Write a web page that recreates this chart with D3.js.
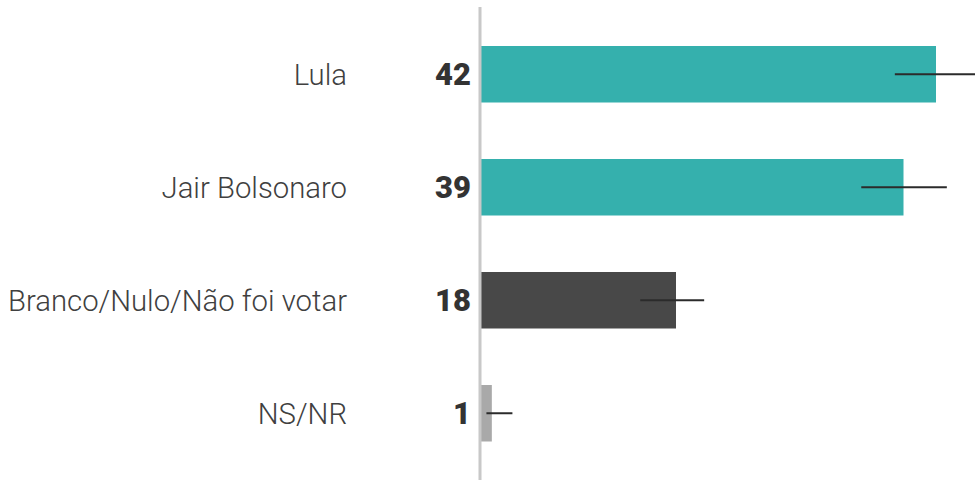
<!DOCTYPE html>
<html>
<head>
<meta charset="utf-8">
<script src="https://cdn.jsdelivr.net/npm/d3@7"></script>
<style>
  html, body { margin: 0; padding: 0; background: #fff; }
  svg { display: block; }
</style>
</head>
<body>
<svg id="chart" width="975" height="480"></svg>
<script>
// Voting intention (%) with margin-of-error ranges
const categories = ["Lula", "Jair Bolsonaro", "Branco/Nulo/Não foi votar", "NS/NR"];
const values = [42, 39, 18, 1];
const errLow = [38.2, 35.1, 14.7, 0.5];
const errHigh = [45.8, 43.0, 20.6, 2.9];
const colors = ["#35b0ad", "#35b0ad", "#484848", "#a9a9a9"];

const data = categories.map((c, i) => ({
  cat: c, value: values[i], lo: errLow[i], hi: errHigh[i], color: colors[i]
}));

const svg = d3.select("#chart");
const W = 975, H = 480;

const x = d3.scaleLinear().domain([0, 42]).range([481, 936]);
const y = d3.scaleBand()
  .domain(categories)
  .range([17.75, 469.75])
  .paddingInner(0.5)
  .paddingOuter(0.25);

// Bars
svg.append("g").selectAll("rect")
  .data(data)
  .join("rect")
  .attr("x", x(0))
  .attr("y", d => y(d.cat))
  .attr("width", d => x(d.value) - x(0))
  .attr("height", y.bandwidth())
  .attr("fill", d => d.color);

// Baseline
svg.append("line")
  .attr("x1", 480).attr("x2", 480)
  .attr("y1", 7).attr("y2", H)
  .attr("stroke", "#c8c8c8")
  .attr("stroke-width", 3);

// Error ranges
svg.append("g").selectAll("line")
  .data(data)
  .join("line")
  .attr("x1", d => x(d.lo))
  .attr("x2", d => x(d.hi))
  .attr("y1", d => y(d.cat) + y.bandwidth() / 2)
  .attr("y2", d => y(d.cat) + y.bandwidth() / 2)
  .attr("stroke", "#2b2b2b")
  .attr("stroke-width", 2);

// Category labels
svg.append("g").selectAll("text")
  .data(data)
  .join("text")
  .attr("x", 347)
  .attr("y", d => y(d.cat) + y.bandwidth() / 2)
  .attr("dy", "0.35em")
  .attr("text-anchor", "end")
  .attr("font-family", "Roboto, sans-serif")
  .attr("font-weight", 300)
  .attr("font-size", 29.3)
  .attr("fill", "#404040")
  .text(d => d.cat);

// Value labels
svg.append("g").selectAll("text")
  .data(data)
  .join("text")
  .attr("x", 471)
  .attr("y", d => y(d.cat) + y.bandwidth() / 2)
  .attr("dy", "0.36em")
  .attr("text-anchor", "end")
  .attr("font-family", "Roboto, sans-serif")
  .attr("font-weight", 900)
  .attr("font-size", 31)
  .attr("fill", "#333")
  .text(d => d.value);
</script>
</body>
</html>
